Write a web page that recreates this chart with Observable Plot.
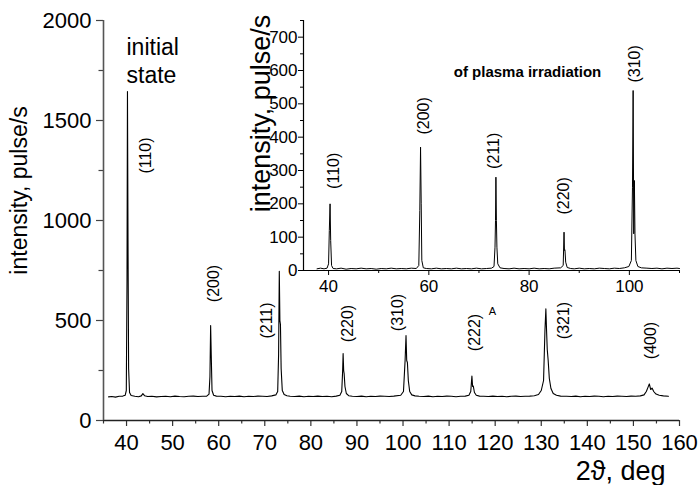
<!DOCTYPE html>
<html><head><meta charset="utf-8">
<script src="https://cdn.jsdelivr.net/npm/d3@7"></script>
<script src="https://cdn.jsdelivr.net/npm/@observablehq/plot@0.6"></script>
<style>
body{margin:0;background:#fff;}
#wrap{position:relative;width:699px;height:485px;overflow:hidden;background:#fff;}
#wrap svg{position:absolute;left:0;top:0;}
</style></head><body><div id="wrap"></div>
<script>
// ---- main pattern (initial state) ----
const mainTwoTheta = [36.1,36.8,37.6,38.4,39.2,39.7,39.95,40.1,40.2,40.32,40.45,40.65,41.0,41.8,42.6,43.2,43.55,43.9,44.6,45.5,46.5,47.5,48.5,49.5,50.5,51.5,52.5,53.5,54.5,55.5,56.5,57.4,57.9,58.1,58.25,58.38,58.55,58.9,59.5,60.5,61.5,62.5,63.5,64.5,65.5,66.5,67.5,68.5,69.5,70.5,71.5,72.4,72.8,73.0,73.15,73.28,73.4,73.55,73.8,74.2,74.8,75.5,76.5,77.5,78.5,79.5,80.5,81.5,82.5,83.5,84.5,85.5,86.3,86.7,86.9,87.0,87.12,87.22,87.4,87.7,88.2,89,90,91,92,93,94,95,96,97,98,99.5,100.1,100.45,100.65,100.8,100.95,101.15,101.45,101.9,102.6,103.5,104.5,105.5,106.5,107.5,108.5,109.5,110.5,111.5,112.5,113.5,114.3,114.7,114.95,115.1,115.25,115.5,115.9,116.6,117.5,118.5,119.5,120.5,121.5,122.5,123.5,124.5,125.5,126.5,127.5,128.5,129.4,130.0,130.5,130.8,131.0,131.15,131.3,131.5,131.75,132.1,132.6,133.3,134.2,135.5,136.5,137.5,138.5,139.5,140.5,141.5,142.5,143.5,144.5,145.5,146.5,147.5,148.5,149.5,150.5,151.5,152.3,152.8,153.2,153.45,153.75,154.05,154.4,154.9,155.6,156.5,157.6];
const mainIntensity = [118,120,117,121,122,126,150,700,1645,900,260,140,125,121,119,123,134,124,120,121,118,120,121,119,122,120,119,121,122,120,121,122,132,220,475,330,150,126,122,121,119,121,120,122,119,121,120,122,121,120,123,128,145,330,746,500,480,260,150,130,124,121,120,122,119,121,120,122,120,121,119,122,126,145,250,335,250,235,170,135,124,121,120,122,119,121,120,122,121,120,122,126,145,300,425,300,290,200,145,128,123,121,120,122,119,121,120,122,121,119,121,122,126,145,222,170,172,140,126,122,121,120,122,120,121,119,121,122,120,121,122,124,130,150,200,450,558,450,355,300,210,160,135,126,122,121,120,122,119,121,120,122,121,119,121,120,122,121,120,122,121,123,128,145,168,183,155,162,145,132,126,123,121];

// ---- inset pattern (after plasma irradiation) ----
const insetTwoTheta = [37.7,38.4,39.1,39.7,40.0,40.15,40.3,40.42,40.6,40.9,41.6,42.5,43.5,44.5,45.5,46.5,47.5,48.5,49.5,50.5,51.5,52.5,53.5,54.5,55.5,56.5,57.5,58.0,58.2,58.35,58.48,58.6,58.9,59.5,60.5,61.5,62.5,63.5,64.5,65.5,66.5,67.5,68.5,69.5,70.5,71.5,72.5,73.0,73.2,73.3,73.38,73.48,73.58,73.75,74.2,75,76,77,78,79,80,81,82,83,84,85,86.3,86.8,86.97,87.05,87.15,87.3,87.6,88.3,89,90,91,92,93,94,95,96,97,98,99,99.9,100.4,100.62,100.75,100.88,101.0,101.12,101.3,101.7,102.4,103.5,104.5,105.5,106.5,107.5,108.5,109.5,110];
const insetIntensity = [5,7,5,7,20,120,200,90,15,6,5,7,4,6,5,7,5,6,4,6,5,7,5,6,5,7,6,15,180,370,200,30,8,6,5,7,5,6,5,7,5,6,5,7,5,6,7,12,70,150,280,150,70,20,8,6,5,7,5,6,5,7,5,6,5,7,8,15,115,60,62,25,9,6,5,7,5,6,5,7,6,5,7,6,8,12,30,250,540,110,270,110,30,12,8,7,6,7,5,7,6,7,6];

// ---- ticks ----
const mainXTicks = [40,50,60,70,80,90,100,110,120,130,140,150,160];
const mainXMinor = [35,45,55,65,75,85,95,105,115,125,135,145,155];
const mainYTicks = [0,500,1000,1500,2000];
const mainYMinor = [250,750,1250,1750];
const insetXTicks = [40,60,80,100];
const insetXMinor = [50,70,90,110];
const insetYTicks = [0,100,200,300,400,500,600,700];
const insetYMinor = [50,150,250,350,450,550,650,750];

// ---- peak labels ----
const mainPeakLabels = ["(110)","(200)","(211)","(220)","(310)","(222)","(321)","(400)"];
const mainLabelX = [44.3,58.9,70.4,88.1,98.8,115.7,134.8,153.7];
const mainLabelY = [1325,685,500,485,540,440,500,400];
const insetPeakLabels = ["(110)","(200)","(211)","(220)","(310)"];
const insetLabelX = [41,59,73,87,101];
const insetLabelY = [299,464,359,224,620];

const FONT = "'Liberation Sans', Arial, Helvetica, sans-serif";
const mainData = mainTwoTheta.map((x,i)=>({x, y: mainIntensity[i]}));
const insetData = insetTwoTheta.map((x,i)=>({x, y: insetIntensity[i]}));
const mainLab = mainPeakLabels.map((t,i)=>({t, x: mainLabelX[i], y: mainLabelY[i]}));
const insetLab = insetPeakLabels.map((t,i)=>({t, x: insetLabelX[i], y: insetLabelY[i]}));
const fmt = d => String(d);

const main = Plot.plot({
  width: 699, height: 485,
  marginLeft: 103, marginRight: 20, marginTop: 20, marginBottom: 65,
  style: {fontFamily: FONT, background: "white", color: "black", overflow: "visible"},
  x: {domain: [35,160]},
  y: {domain: [0,2000]},
  marks: [
    Plot.axisX({ticks: mainXTicks, tickSize: 6, tickPadding: 8, fontSize: 22, tickFormat: fmt, label: null, stroke: "#333", strokeWidth: 1.2}),
    Plot.axisX({ticks: mainXMinor, tickSize: 3.5, tickFormat: () => "", label: null, stroke: "#333", strokeWidth: 1.2}),
    Plot.axisY({ticks: mainYTicks, tickSize: 7, tickPadding: 5, fontSize: 22, tickFormat: fmt, label: null, stroke: "#444", strokeWidth: 1.2}),
    Plot.axisY({ticks: mainYMinor, tickSize: 4.5, tickFormat: () => "", label: null, stroke: "#444", strokeWidth: 1.2}),
    Plot.ruleY([0], {stroke: "#222", strokeWidth: 1.3}),
    Plot.ruleX([35], {stroke: "#555", strokeWidth: 1.6}),
    Plot.line(mainData, {x: "x", y: "y", stroke: "black", strokeWidth: 1.1}),
    Plot.text(mainLab, {x: "x", y: "y", text: "t", rotate: -90, fontSize: 16, fill: "black"}),
    Plot.text(["initial\nstate"], {frameAnchor: "top-left", dx: 23, dy: 15, textAnchor: "start", lineAnchor: "top", lineHeight: 1.22, fontSize: 23, fill: "black"}),
    Plot.text(["A"], {frameAnchor: "top-left", dx: 389, dy: 291, textAnchor: "middle", lineAnchor: "middle", fontSize: 11, fill: "black"}),
    Plot.text(["intensity, pulse/s"], {frameAnchor: "left", dx: -84, dy: -30, rotate: -90, textAnchor: "middle", lineAnchor: "middle", fontSize: 23, fill: "black"}),
    Plot.text(["2\u03D1, deg"], {frameAnchor: "bottom-right", dx: -14, dy: 51, textAnchor: "end", lineAnchor: "middle", fontSize: 27, fill: "black"})
  ]
});

const inset = Plot.plot({
  width: 699, height: 300,
  marginLeft: 303, marginRight: 20, marginTop: 20, marginBottom: 30,
  style: {fontFamily: FONT, background: "transparent", color: "black", overflow: "visible"},
  x: {domain: [35,110]},
  y: {domain: [0,750]},
  marks: [
    Plot.axisX({ticks: insetXTicks, tickSize: 5, tickPadding: 4, fontSize: 17, tickFormat: fmt, label: null}),
    Plot.axisX({ticks: insetXMinor, tickSize: 3, tickFormat: () => "", label: null}),
    Plot.axisY({ticks: insetYTicks, tickSize: 5, tickPadding: 1, fontSize: 17, tickFormat: fmt, label: null}),
    Plot.axisY({ticks: insetYMinor, tickSize: 3, tickFormat: () => "", label: null}),
    Plot.ruleY([0], {stroke: "black", strokeWidth: 1.2}),
    Plot.ruleX([35], {stroke: "black", strokeWidth: 1.2}),
    Plot.line(insetData, {x: "x", y: "y", stroke: "black", strokeWidth: 1}),
    Plot.text(insetLab, {x: "x", y: "y", text: "t", rotate: -90, fontSize: 16, fill: "black"}),
    Plot.text(["intensity, pulse/s"], {frameAnchor: "left", dx: -42, dy: -32, rotate: -90, textAnchor: "middle", lineAnchor: "middle", fontSize: 27, fill: "black"}),
    Plot.text(["of plasma irradiation"], {frameAnchor: "top-left", dx: 224, dy: 52, textAnchor: "middle", lineAnchor: "middle", fontSize: 15, fontWeight: "bold", fill: "black"})
  ]
});

const wrap = document.getElementById("wrap");
wrap.appendChild(main);
wrap.appendChild(inset);
</script></body></html>
